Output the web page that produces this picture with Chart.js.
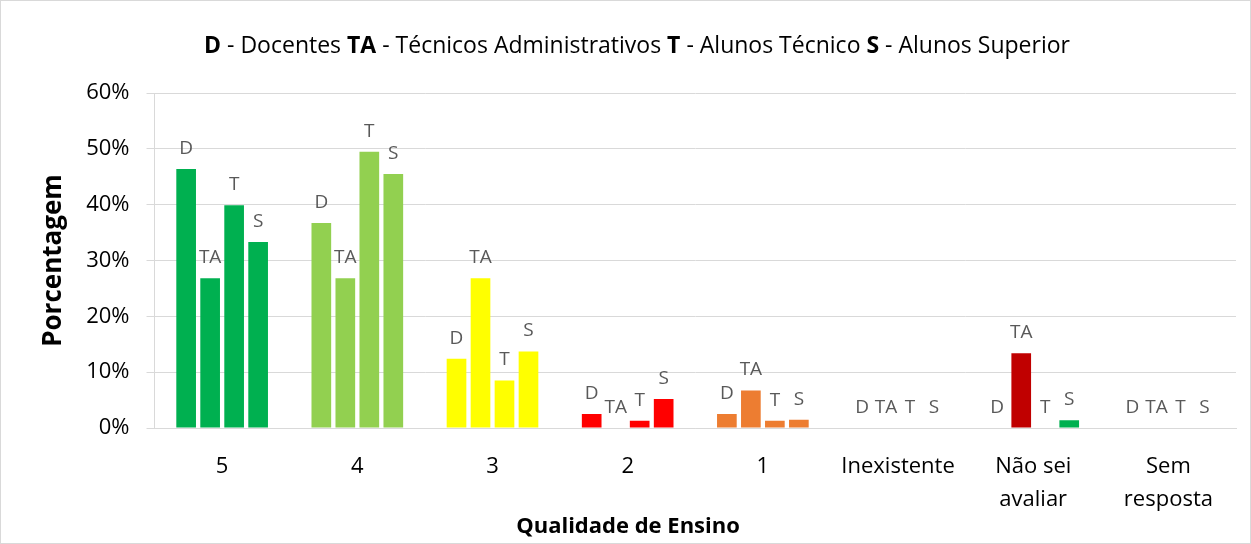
<!DOCTYPE html>
<html>
<head>
<meta charset="utf-8">
<script src="https://cdn.jsdelivr.net/npm/chart.js@4"></script>
<style>
  html, body { margin: 0; padding: 0; background: #fff; }
  #wrap { width: 1249px; height: 542px; border: 1px solid #d9d9d9; }
</style>
</head>
<body>
<div id="wrap"><canvas id="chart" width="1249" height="542"></canvas></div>
<script>
// Data
const categories = ["5", "4", "3", "2", "1", "Inexistente", ["Não sei", "avaliar"], ["Sem", "resposta"]];
const seriesNames = ["D", "TA", "T", "S"];
const docentes = [46.4, 36.7, 12.4, 2.5, 2.5, 0, 0, 0];
const tecAdmin = [26.8, 26.8, 26.8, 0, 6.7, 0, 13.4, 0];
const alunosTec = [39.9, 49.5, 8.5, 1.3, 1.3, 0, 0, 0];
const alunosSup = [33.3, 45.5, 13.7, 5.2, 1.5, 0, 1.4, 0];
const yTicks = [0, 10, 20, 30, 40, 50, 60];

// cores por categoria (Não sei avaliar tem cores próprias)
const catColors = ["#00B050", "#92D050", "#FFFF00", "#FF0000", "#ED7D31", "#A5A5A5", "#C00000", "#A5A5A5"];
function colorsFor(seriesIdx) {
  return catColors.map((c, i) => (i === 6 && seriesIdx === 3) ? "#00B050" : c);
}

const FONT = "'Open Sans', 'Liberation Sans', sans-serif";

// Title with mixed bold text + x axis title centred on the canvas
const titlePlugin = {
  id: "mixedTitle",
  afterDraw(chart) {
    const ctx = chart.ctx;
    const parts = [
      ["D", true], [" - Docentes ", false], ["TA", true], [" - Técnicos Administrativos ", false],
      ["T", true], [" - Alunos Técnico ", false], ["S", true], [" - Alunos Superior", false]
    ];
    ctx.save();
    ctx.textBaseline = "middle";
    let total = 0;
    parts.forEach(([t, b]) => {
      ctx.font = (b ? "bold " : "") + "23px " + FONT;
      total += ctx.measureText(t).width;
    });
    let x = 636 - total / 2;
    parts.forEach(([t, b]) => {
      ctx.font = (b ? "bold " : "") + "23px " + FONT;
      ctx.fillStyle = "#000";
      ctx.fillText(t, x, 45);
      x += ctx.measureText(t).width;
    });
    ctx.font = "bold 22px " + FONT;
    ctx.textAlign = "center";
    ctx.fillText("Qualidade de Ensino", 627, 526);
    ctx.restore();
  }
};

// Letters above each bar
const barLetters = {
  id: "barLetters",
  afterDatasetsDraw(chart) {
    const ctx = chart.ctx;
    ctx.save();
    ctx.font = "19px " + FONT;
    ctx.fillStyle = "#595959";
    ctx.textAlign = "center";
    ctx.textBaseline = "bottom";
    chart.data.datasets.forEach((ds, di) => {
      chart.getDatasetMeta(di).data.forEach((bar) => {
        ctx.fillText(ds.label, bar.x, bar.y - 11);
      });
    });
    ctx.restore();
  }
};

const allSeries = [docentes, tecAdmin, alunosTec, alunosSup];

new Chart(document.getElementById("chart"), {
  type: "bar",
  data: {
    labels: categories,
    datasets: allSeries.map((vals, i) => ({
      label: seriesNames[i],
      data: vals,
      backgroundColor: colorsFor(i),
      borderWidth: 0,
      barPercentage: 0.82,
      categoryPercentage: 0.71
    }))
  },
  options: {
    responsive: false,
    animation: false,
    layout: { padding: { top: 92, right: 14, left: 33, bottom: 13 } },
    plugins: {
      legend: { display: false },
      tooltip: { enabled: false }
    },
    scales: {
      x: {
        grid: { display: false },
        border: { color: "#d9d9d9" },
        ticks: { color: "#000", font: { family: FONT, size: 22, lineHeight: 1.5 }, padding: 14 }
      },
      y: {
        min: 0,
        max: 60,
        afterBuildTicks: (axis) => { axis.ticks = yTicks.map((v) => ({ value: v })); },
        grid: { color: "#d9d9d9" },
        border: { color: "#d9d9d9" },
        ticks: {
          color: "#000",
          font: { family: FONT, size: 22 },
          padding: 17,
          callback: (v) => v + "%"
        },
        title: {
          display: true,
          text: "Porcentagem",
          color: "#000",
          font: { family: FONT, size: 26, weight: "bold" },
          padding: { top: 4, bottom: 0 }
        }
      }
    }
  },
  plugins: [titlePlugin, barLetters]
});
</script>
</body>
</html>
